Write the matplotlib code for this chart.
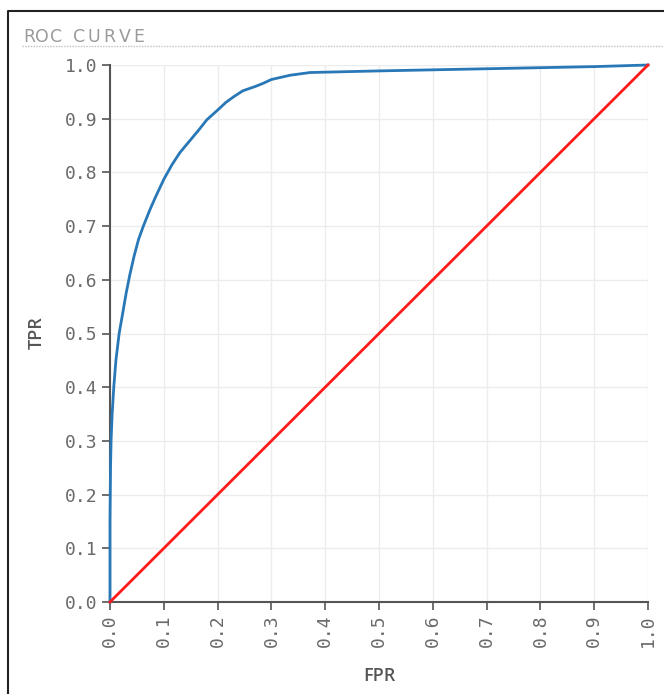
import matplotlib
matplotlib.use("Agg")
import matplotlib.pyplot as plt
from matplotlib.lines import Line2D

# ROC curve points
fpr = [0.0, 0.0, 0.001, 0.002, 0.004, 0.007, 0.011, 0.017, 0.024, 0.03, 0.037,
       0.045, 0.053, 0.062, 0.074, 0.085, 0.1, 0.115, 0.13, 0.15, 0.165, 0.18,
       0.2, 0.215, 0.23, 0.247, 0.27, 0.285, 0.3, 0.335, 0.372, 0.5, 0.7, 0.9, 1.0]
tpr = [0.0, 0.15, 0.25, 0.3, 0.35, 0.4, 0.45, 0.5, 0.54, 0.575, 0.61,
       0.645, 0.675, 0.7, 0.73, 0.755, 0.787, 0.814, 0.837, 0.861, 0.879, 0.898,
       0.916, 0.93, 0.941, 0.952, 0.96, 0.966, 0.973, 0.981, 0.986, 0.989, 0.993, 0.997, 1.0]
chance_x = [0.0, 1.0]
chance_y = [0.0, 1.0]
ticks = [0.0, 0.1, 0.2, 0.3, 0.4, 0.5, 0.6, 0.7, 0.8, 0.9, 1.0]

W, H = 664, 694
fig = plt.figure(figsize=(W / 100, H / 100), dpi=100)
ax = fig.add_axes([110 / W, 1 - 602 / H, 538 / W, 537 / H])

ax.plot(fpr, tpr, color="#2878b8", lw=2, clip_on=False, zorder=3)
ax.plot(chance_x, chance_y, color="#ff1a1a", lw=2, clip_on=False, zorder=3)

ax.set_xlim(0, 1)
ax.set_ylim(0, 1)
ax.set_xticks(ticks)
ax.set_yticks(ticks)
ax.set_xticklabels([f"{t:.1f}" for t in ticks], rotation=90,
                   family="DejaVu Sans Mono", fontsize=13, color="#6a6a6a")
ax.set_yticklabels([f"{t:.1f}" for t in ticks],
                   family="DejaVu Sans Mono", fontsize=13, color="#6a6a6a")
ax.tick_params(length=6, width=1.2, color="#555555", pad=3)
ax.grid(True, color="#ececec", lw=1)
ax.set_axisbelow(True)
for s in ["top", "right"]:
    ax.spines[s].set_visible(False)
for s in ["left", "bottom"]:
    ax.spines[s].set_color("#555555")
    ax.spines[s].set_linewidth(1.5)

fig.text(37 / W, 1 - 333 / H, "TPR", rotation=90, ha="center", va="center",
         family="Open Sans", fontsize=13, fontweight="semibold", color="#555555")
fig.text(379 / W, 1 - 676 / H, "FPR", ha="center", va="center",
         family="Open Sans", fontsize=13, fontweight="semibold", color="#555555")

# title, letter-spaced (character centres in pixels)
title_chars = ["R", "O", "C", "C", "U", "R", "V", "E"]
title_x = [29, 42, 56, 79, 94, 109, 125, 139]
for ch, x in zip(title_chars, title_x):
    fig.text(x / W, 1 - 42 / H, ch, ha="center", va="baseline",
             family="DejaVu Sans", fontsize=12.5, color="#9a9a9a")

# dotted rule under title and outer frame
fig.add_artist(Line2D([22 / W, 1], [1 - 46 / H] * 2, color="#c0c0c0", lw=1,
                      ls=(0, (1, 1))))
fig.add_artist(Line2D([7.5 / W, 7.5 / W, 1], [0, 1 - 10.5 / H, 1 - 10.5 / H],
                      color="#222222", lw=1.5))

fig.savefig("out.png", dpi=100)
